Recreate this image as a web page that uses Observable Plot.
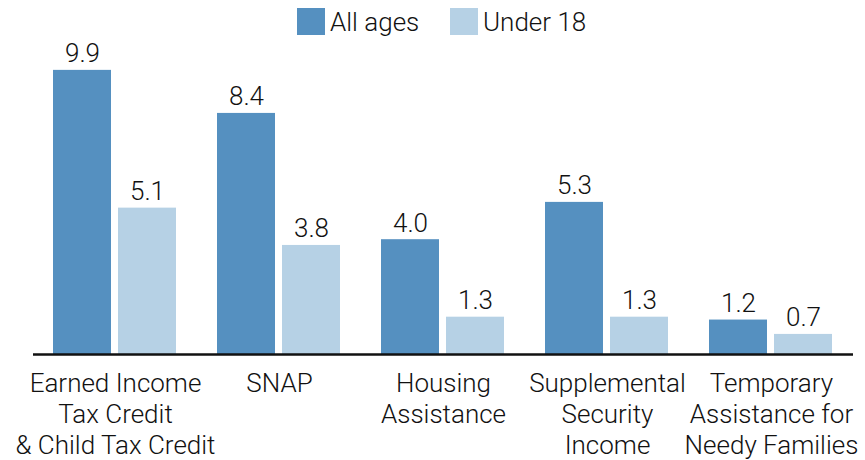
<!DOCTYPE html>
<html>
<head>
<meta charset="utf-8">
<script src="https://cdn.jsdelivr.net/npm/d3@7"></script>
<script src="https://cdn.jsdelivr.net/npm/@observablehq/plot@0.6"></script>
<style>
  html, body { margin: 0; padding: 0; background: #fff; }
  body { width: 865px; height: 460px; overflow: hidden; font-family: Roboto, sans-serif; font-weight: 300; }
  #legend { position: relative; height: 36px; }
  .item { position: absolute; top: 0; display: flex; align-items: center; height: 43px; font-size: 26px; color: #111; }
  .sw { width: 28px; height: 27px; margin-right: 5px; }
  svg { overflow: visible; display: block; }
</style>
</head>
<body>
<div id="legend"></div>
<div id="chart"></div>
<script>
const categories = [
  "Earned Income\nTax Credit\n& Child Tax Credit",
  "SNAP",
  "Housing\nAssistance",
  "Supplemental\nSecurity\nIncome",
  "Temporary\nAssistance for\nNeedy Families"
];
const series = ["All ages", "Under 18"];
const allAges = [9.9, 8.4, 4.0, 5.3, 1.2];
const under18 = [5.1, 3.8, 1.3, 1.3, 0.7];
const colors = ["#5590c0", "#b6d1e5"];

const data = categories.flatMap((c, i) => [
  {cat: c, series: series[0], value: allAges[i]},
  {cat: c, series: series[1], value: under18[i]}
]);

const legend = document.getElementById("legend");
const lefts = [297, 450];
series.forEach((s, i) => {
  const it = document.createElement("div");
  it.className = "item";
  it.style.left = lefts[i] + "px";
  it.innerHTML = `<div class="sw" style="background:${colors[i]}"></div><span>${s}</span>`;
  legend.appendChild(it);
});

const chart = Plot.plot({
  width: 865,
  height: 424,
  marginLeft: 31,
  marginRight: 10,
  marginTop: 31,
  marginBottom: 106,
  fx: {domain: categories, padding: 0, label: null},
  x: {domain: series, paddingInner: 0.106, paddingOuter: 0.301, axis: null},
  y: {domain: [0, 10], axis: null},
  color: {domain: series, range: colors},
  style: {fontFamily: "Roboto, sans-serif", fontSize: "26px", fontWeight: 300, color: "#111"},
  marks: [
    Plot.barY(data, {fx: "cat", x: "series", y: "value", fill: "series"}),
    Plot.text(data, {fx: "cat", x: "series", y: "value", text: d => d.value.toFixed(1), lineAnchor: "bottom", dy: -8, fontSize: 26, fill: "#111"}),
    Plot.ruleY([0], {stroke: "#111", strokeWidth: 2.5}),
    Plot.axisFx({anchor: "bottom", tickSize: 0, tickPadding: 16, fontSize: 26, lineHeight: 1.19, label: null, fill: "#111"})
  ]
});
document.getElementById("chart").appendChild(chart);
</script>
</body>
</html>
